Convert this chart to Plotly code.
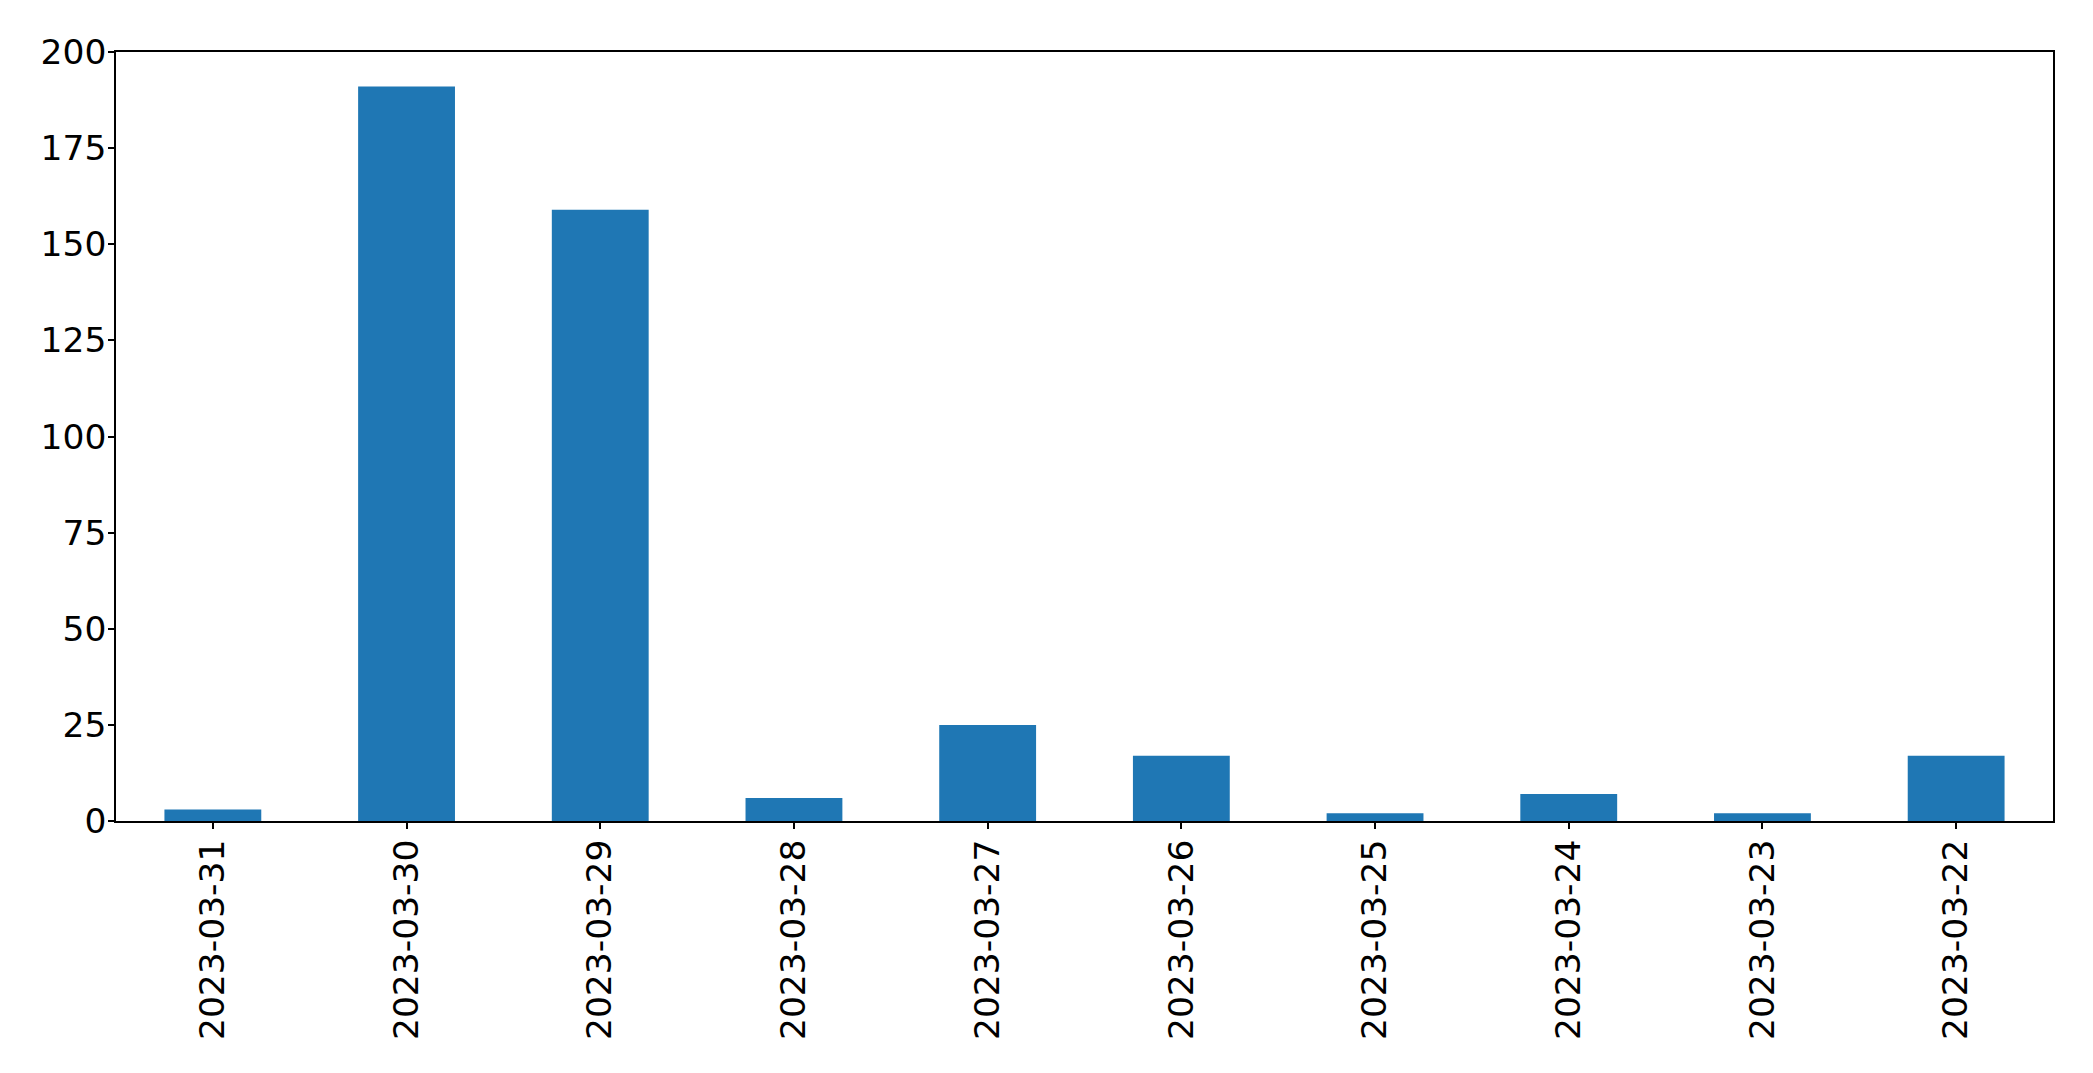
import plotly.graph_objects as go

dates = ["2023-03-31", "2023-03-30", "2023-03-29", "2023-03-28", "2023-03-27",
         "2023-03-26", "2023-03-25", "2023-03-24", "2023-03-23", "2023-03-22"]
counts = [3, 191, 159, 6, 25, 17, 2, 7, 2, 17]
y_ticks = [0, 25, 50, 75, 100, 125, 150, 175, 200]

fig = go.Figure(go.Bar(
    x=dates, y=counts, width=0.5,
    marker=dict(color="#1f77b4", line=dict(width=0)),
))

font = dict(family="DejaVu Sans", size=34.5, color="black")
fig.update_layout(
    width=2077, height=1057, autosize=False,
    margin=dict(l=108, r=32, t=44, b=244),
    plot_bgcolor="white", paper_bgcolor="white",
    showlegend=False, font=font,
)
fig.update_xaxes(
    type="category", range=[-0.5, 9.5], tickangle=-90,
    showline=True, mirror=True, linecolor="black", linewidth=1.5,
    ticks="outside", ticklen=6, tickwidth=1.5, tickcolor="black",
    showgrid=False, zeroline=False, tickfont=font, ticklabelstandoff=-3,
)
fig.update_yaxes(
    range=[0, 200], tickvals=y_ticks,
    showline=True, mirror=True, linecolor="black", linewidth=1.5,
    ticks="outside", ticklen=6, tickwidth=1.5, tickcolor="black",
    showgrid=False, zeroline=False, tickfont=font, ticklabelstandoff=-5,
)

fig.write_html("out.html")
